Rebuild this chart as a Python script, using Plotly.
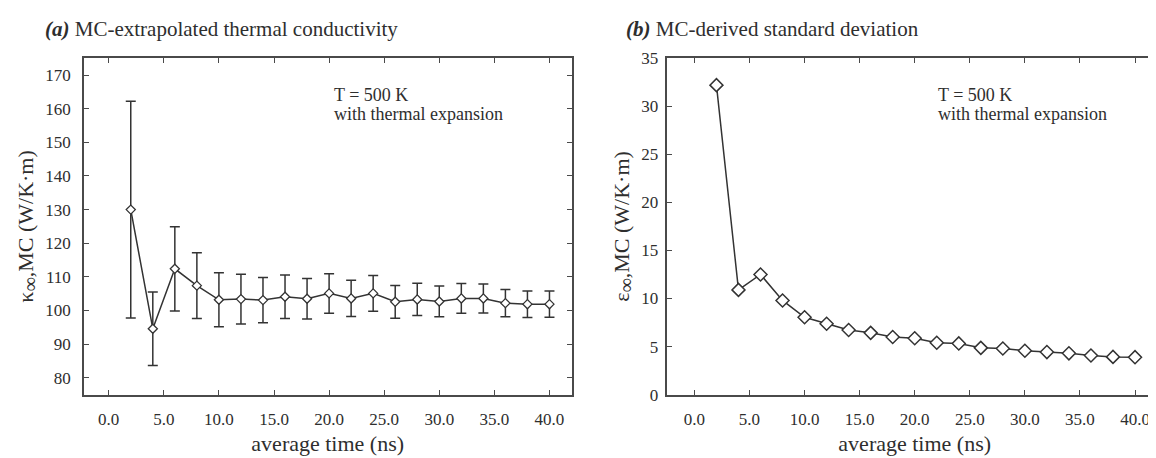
import plotly.graph_objects as go

# Data
avg_time = [2, 4, 6, 8, 10, 12, 14, 16, 18, 20, 22, 24, 26, 28, 30, 32, 34, 36, 38, 40]
kappa_mc = [130.0, 94.6, 112.4, 107.4, 103.2, 103.4, 103.1, 104.1, 103.5, 105.1,
            103.6, 105.1, 102.6, 103.3, 102.7, 103.6, 103.6, 102.2, 101.9, 101.9]
eps_mc = [32.2, 10.9, 12.5, 9.8, 8.05, 7.37, 6.73, 6.43, 6.0, 5.87,
          5.4, 5.33, 4.87, 4.8, 4.57, 4.43, 4.3, 4.07, 3.93, 3.9]
x_ticks = [0, 5, 10, 15, 20, 25, 30, 35, 40]
x_tick_labels = ["0.0", "5.0", "10.0", "15.0", "20.0", "25.0", "30.0", "35.0", "40.0"]
left_y_ticks = [80, 90, 100, 110, 120, 130, 140, 150, 160, 170]
right_y_ticks = [0, 5, 10, 15, 20, 25, 30, 35]

FONT = "Liberation Serif"
LINE = "#333333"
AX = "#4a4a4a"
TXT = "#2e2e2e"
W, H = 1156, 458

fig = go.Figure()

fig.add_trace(go.Scatter(
    x=avg_time, y=kappa_mc, mode="lines+markers",
    line=dict(color=LINE, width=1.5),
    marker=dict(symbol="diamond", size=7, color="white", line=dict(color=LINE, width=1.3)),
    error_y=dict(type="data", array=eps_mc, visible=True, color=LINE, thickness=1.5, width=5),
    xaxis="x", yaxis="y", showlegend=False))

fig.add_trace(go.Scatter(
    x=avg_time, y=eps_mc, mode="lines+markers",
    line=dict(color=LINE, width=1.5),
    marker=dict(symbol="diamond", size=10, color="white", line=dict(color=LINE, width=1.5)),
    xaxis="x2", yaxis="y2", showlegend=False))

def px(x):
    return x / W

def py(y):
    return 1 - y / H

common_ax = dict(showline=True, linecolor=AX, linewidth=1.5, mirror="ticks",
                 ticks="inside", ticklen=5, tickwidth=1.2, tickcolor=AX,
                 showgrid=False, zeroline=False,
                 tickfont=dict(family=FONT, size=17, color=TXT))

xtitle = dict(text="average time (ns)", font=dict(family=FONT, size=22, color=TXT), standoff=8)
big_inf = "<sub><span style='font-size:20px'>∞</span></sub>"

fig.update_layout(
    width=W, height=H,
    margin=dict(l=0, r=0, t=0, b=0),
    paper_bgcolor="white", plot_bgcolor="white",
    font=dict(family=FONT, color=TXT),
    xaxis=dict(domain=[px(76), px(564)], range=[-2.25, 42.0], tickvals=x_ticks,
               ticktext=x_tick_labels, anchor="y", ticklabelstandoff=8,
               title=xtitle, **common_ax),
    yaxis=dict(domain=[py(394), py(43)], range=[75, 175], tickvals=left_y_ticks, anchor="x",
               ticklabelstandoff=8,
               title=dict(text="κ" + big_inf + ",MC (W/K·m)", font=dict(family=FONT, size=22, color=TXT),
                          standoff=6),
               **common_ax),
    xaxis2=dict(domain=[px(660), px(1155)], range=[-2.45, 42.45], tickvals=x_ticks,
                ticktext=x_tick_labels, anchor="y2", ticklabelstandoff=8,
                title=xtitle, **common_ax),
    yaxis2=dict(domain=[py(394), py(43)], range=[0, 35], tickvals=right_y_ticks, anchor="x2",
                ticklabelstandoff=4,
                title=dict(text="ε" + big_inf + ",MC (W/K·m)", font=dict(family=FONT, size=22, color=TXT),
                           standoff=6),
                **common_ax),
)

annots = [
    dict(x=px(36), y=py(13), text="<b><i>(a)</i></b> MC-extrapolated thermal conductivity", size=21),
    dict(x=px(618), y=py(13), text="<b><i>(b)</i></b> MC-derived standard deviation", size=21),
    dict(x=px(325), y=py(81), text="T = 500 K", size=18),
    dict(x=px(325), y=py(101), text="with thermal expansion", size=18),
    dict(x=px(930), y=py(81), text="T = 500 K", size=18),
    dict(x=px(930), y=py(101), text="with thermal expansion", size=18),
]
for a in annots:
    size = a.pop("size")
    fig.add_annotation(xref="paper", yref="paper", xanchor="left", yanchor="middle",
                       showarrow=False, borderpad=0,
                       font=dict(family=FONT, size=size, color=TXT), **a)

fig.write_html("out.html")
